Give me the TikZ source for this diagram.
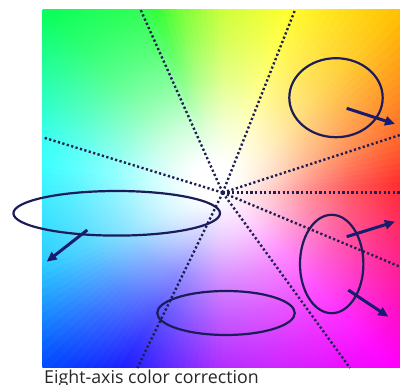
\documentclass[tikz,border=0pt]{standalone}
\usepackage{fontspec}
\setmainfont{Open Sans}
\usetikzlibrary{arrows.meta}
\definecolor{huec}{rgb}{1,0,0}
\definecolor{navyline}{RGB}{28,28,90}
\definecolor{navyarrow}{RGB}{24,28,110}
\definecolor{dotcol}{RGB}{30,30,84}
% circle radius 300px <-> 25bp, so 1bp = 12px
\pgfdeclareradialshading[huec]{huewhite}{\pgfpoint{0bp}{0bp}}{%
  color(0bp)=(white); color(1.67bp)=(white); color(5bp)=(huec!20!white);
  color(8.33bp)=(huec!45!white); color(11.67bp)=(huec!65!white);
  color(15bp)=(huec!80!white); color(19.17bp)=(huec!95!white);
  color(21.67bp)=(huec); color(50bp)=(huec)}
\tikzset{
  raydots/.style={draw=dotcol, line width=2.4pt, dash pattern=on 2.2pt off 2.4pt},
  ring/.style={draw=navyline, line width=2.2pt},
  push/.style={draw=navyarrow, line width=3pt, -{Triangle[length=10pt,width=9pt]}},
}
\begin{document}
\begin{tikzpicture}[x=1pt,y=-1pt]
\useasboundingbox (0,0) rectangle (400,385);
\coordinate (C) at (222.7,192.7);
\coordinate (W) at (212,180);
% colour square
\begin{scope}
\clip (42.5,10) rectangle (400,368);
\foreach \ta/\ha/\tb/\hb in {0/-4/18/18, 18/18/46/45, 46/45/68/58, 68/58/90/75, 90/75/103/100, 103/100/114/130, 114/130/135/140, 135/140/163/175, 163/175/180/185, 180/185/203/195, 203/195/224/222, 224/222/246/245, 246/245/270/278, 270/278/315/300, 315/300/337/328, 337/328/360/356}{
  \pgfmathtruncatemacro\nn{max(1,round((\tb-\ta)/2))}
  \foreach \k in {1,...,\nn}{
    \pgfmathsetmacro\tlo{\ta+(\k-1)*(\tb-\ta)/\nn}
    \pgfmathsetmacro\thi{\ta+\k*(\tb-\ta)/\nn}
    \pgfmathsetmacro\hh{mod(\ha+(\k-0.5)*(\hb-\ha)/\nn+360,360)}
    \definecolor{huec}{Hsb}{\hh,1,1}
    \begin{scope}
      \clip (C) -- ([shift={(-\tlo+0.5:520)}]C) -- ([shift={(-\thi-0.5:520)}]C) -- cycle;
      \shade[shading=huewhite] (W) circle [radius=300];
    \end{scope}
  }
}
\end{scope}
% axes
\coordinate (r1) at (140.7,10);
\coordinate (r2) at (295,10);
\coordinate (r3) at (42.7,137.3);
\coordinate (r4) at (400,135);
\coordinate (r5) at (400,192.7);
\coordinate (r6) at (400,266.7);
\coordinate (r7) at (350,368);
\coordinate (r8) at (137.3,368);
\foreach \r in {r1,r2,r3,r4,r5,r6,r7,r8}{\draw[raydots] (C) -- (\r);}
% ellipses
\coordinate (eA) at (336,97.7);
\coordinate (eB) at (116.7,213.3);
\coordinate (eC) at (331.7,264);
\coordinate (eD) at (226,313);
\draw[ring] (eA) ellipse [x radius=46.7, y radius=39.5];
\draw[ring] (eB) ellipse [x radius=103.3, y radius=22.3];
\draw[ring] (eC) ellipse [x radius=31.7, y radius=49.2];
\draw[ring] (eD) ellipse [x radius=68.8, y radius=22];
% arrows
\coordinate (a1s) at (346.7,108.3); \coordinate (a1e) at (395,124);
\coordinate (a2s) at (87.3,230);    \coordinate (a2e) at (46.7,261.7);
\coordinate (a3s) at (346.7,236.7); \coordinate (a3e) at (395,221.7);
\coordinate (a4s) at (348.3,290);   \coordinate (a4e) at (388.3,316.7);
\draw[push] (a1s) -- (a1e);
\draw[push] (a2s) -- (a2e);
\draw[push] (a3s) -- (a3e);
\draw[push] (a4s) -- (a4e);
% caption
\node[anchor=base west, inner sep=0pt, text=black!85, font=\fontsize{17.8}{21}\selectfont] (cap) at (44,384) {Eight-axis color correction};
\end{tikzpicture}
\end{document}
